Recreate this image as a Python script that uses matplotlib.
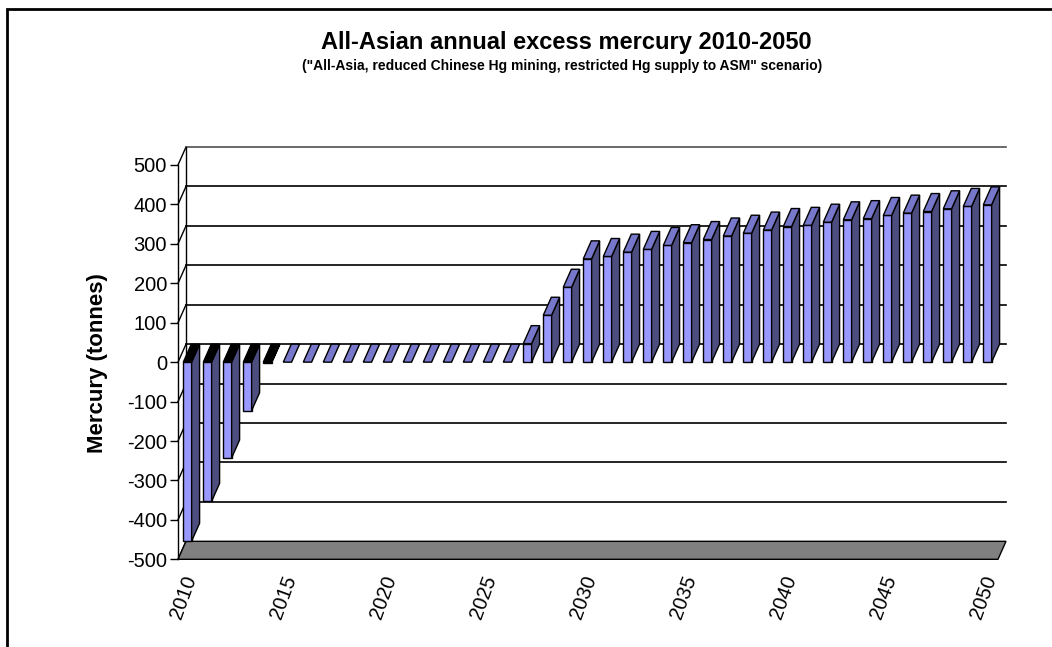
import numpy as np
import matplotlib
matplotlib.use('Agg')
import matplotlib.pyplot as plt
from matplotlib.patches import Polygon, Rectangle
import matplotlib.transforms as mtransforms

rcParams = matplotlib.rcParams
rcParams['font.family'] = 'sans-serif'
rcParams['font.sans-serif'] = ['Liberation Sans', 'DejaVu Sans']

#%% Data: annual excess mercury (tonnes), all-Asia scenario
years = list(range(2010, 2051))
excess_hg = [-454, -353, -243, -123, -2,
             0, 0, 0, 0, 0, 0, 0, 0, 0, 0, 0, 0,
             47, 119, 190, 262, 268, 279, 286, 296, 303, 311, 320,
             327, 335, 344, 347, 355, 361, 364, 372, 378, 382, 389,
             395, 399]
value_ticks = list(range(-500, 501, 100))
year_labels = [str(y) for y in years if y % 5 == 0]

#%% Style
front_col = '#9999FF'
side_col = '#4D4D80'
top_col = '#7777CC'
floor_col = '#808080'

# fake 3D geometry (data units)
bar_w = 0.415      # width of the front face
bar_off = -0.235   # front face left edge relative to slot centre
dpx = 0.4          # depth shift in x
dpy = 45.6         # depth shift in y

W, H = 1052., 647.
fig = plt.figure(figsize=(W/100, H/100), dpi=100)
fig.patch.set_facecolor('white')
ax = fig.add_axes([178/W, 1 - 559.3/H, 820/W, (559.3 - 165)/H])
n = len(years)
ax.set_xlim(-0.5, n - 0.5)
ax.set_ylim(value_ticks[0], value_ticks[-1])
ax.patch.set_visible(False)

# walls: side wall diagonals and back wall gridlines
x_back = -0.5 + dpx
for v in value_ticks:
    ax.plot([-0.5, x_back], [v, v + dpy], color='black', lw=1, clip_on=False, zorder=1)
    if v > value_ticks[0]:
        lc = '#505050' if v == value_ticks[-1] else 'black'
        ax.plot([x_back, n - 0.5 + dpx], [v + dpy, v + dpy], color=lc, lw=1.2,
                clip_on=False, zorder=1)
ax.plot([x_back, x_back], [value_ticks[0] + dpy, value_ticks[-1] + dpy],
        color='black', lw=1, clip_on=False, zorder=1)

# floor
ymin = value_ticks[0]
floor = Polygon([(-0.5, ymin), (n - 0.5, ymin), (n - 0.5 + dpx, ymin + dpy),
                 (x_back, ymin + dpy)], closed=True, facecolor=floor_col,
                edgecolor='black', lw=1, clip_on=False, zorder=2)
ax.add_patch(floor)

# bars
for i, v in enumerate(excess_hg):
    x0 = i + bar_off
    x1 = x0 + bar_w
    lo, hi = min(v, 0), max(v, 0)
    if v != 0:
        ax.add_patch(Rectangle((x0, lo), bar_w, hi - lo, facecolor=front_col,
                               edgecolor='black', lw=1, clip_on=False, zorder=3))
        ax.add_patch(Polygon([(x1, lo), (x1, hi), (x1 + dpx, hi + dpy), (x1 + dpx, lo + dpy)],
                             closed=True, facecolor=side_col, edgecolor='black', lw=1,
                             clip_on=False, zorder=3))
    tc = 'black' if v < 0 else top_col
    ax.add_patch(Polygon([(x0, hi), (x1, hi), (x1 + dpx, hi + dpy), (x0 + dpx, hi + dpy)],
                         closed=True, facecolor=tc, edgecolor='black', lw=1,
                         clip_on=False, zorder=3))

#%% Axes and labels
for s in ['top', 'right', 'bottom']:
    ax.spines[s].set_visible(False)
ax.spines['left'].set_linewidth(1)
ax.set_yticks(value_ticks)
ax.set_yticklabels([str(v) for v in value_ticks])
ax.tick_params(axis='y', direction='out', length=6, width=1, labelsize=14.5, pad=2)

label_pos = [i for i, y in enumerate(years) if y % 5 == 0]
ax.set_xticks(label_pos)
ax.set_xticklabels(year_labels, rotation=70, ha='right', va='center',
                   rotation_mode='anchor', fontsize=14.5)
ax.tick_params(axis='x', length=0, pad=12)
shift = mtransforms.ScaledTranslation(3/100, 0, fig.dpi_scale_trans)
for lab in ax.get_xticklabels():
    lab.set_transform(lab.get_transform() + shift)

fig.text(97/W, 1 - 363/H, 'Mercury (tonnes)', rotation=90, ha='center', va='center',
         fontsize=16, fontweight='bold')
fig.text(566/W, 1 - 42/H, 'All-Asian annual excess mercury 2010-2050', ha='center',
         va='center', fontsize=17, fontweight='bold')
fig.text(562/W, 1 - 66/H,
         '("All-Asia, reduced Chinese Hg mining, restricted Hg supply to ASM" scenario)',
         ha='center', va='center', fontsize=10, fontweight='bold')

# chart area border
fig.add_artist(Rectangle((6.5/W, -0.5), 2.0, 1 - 9.5/H + 0.5, transform=fig.transFigure,
                         fill=False, edgecolor='black', lw=2))

fig.savefig('out.png', dpi=100)
